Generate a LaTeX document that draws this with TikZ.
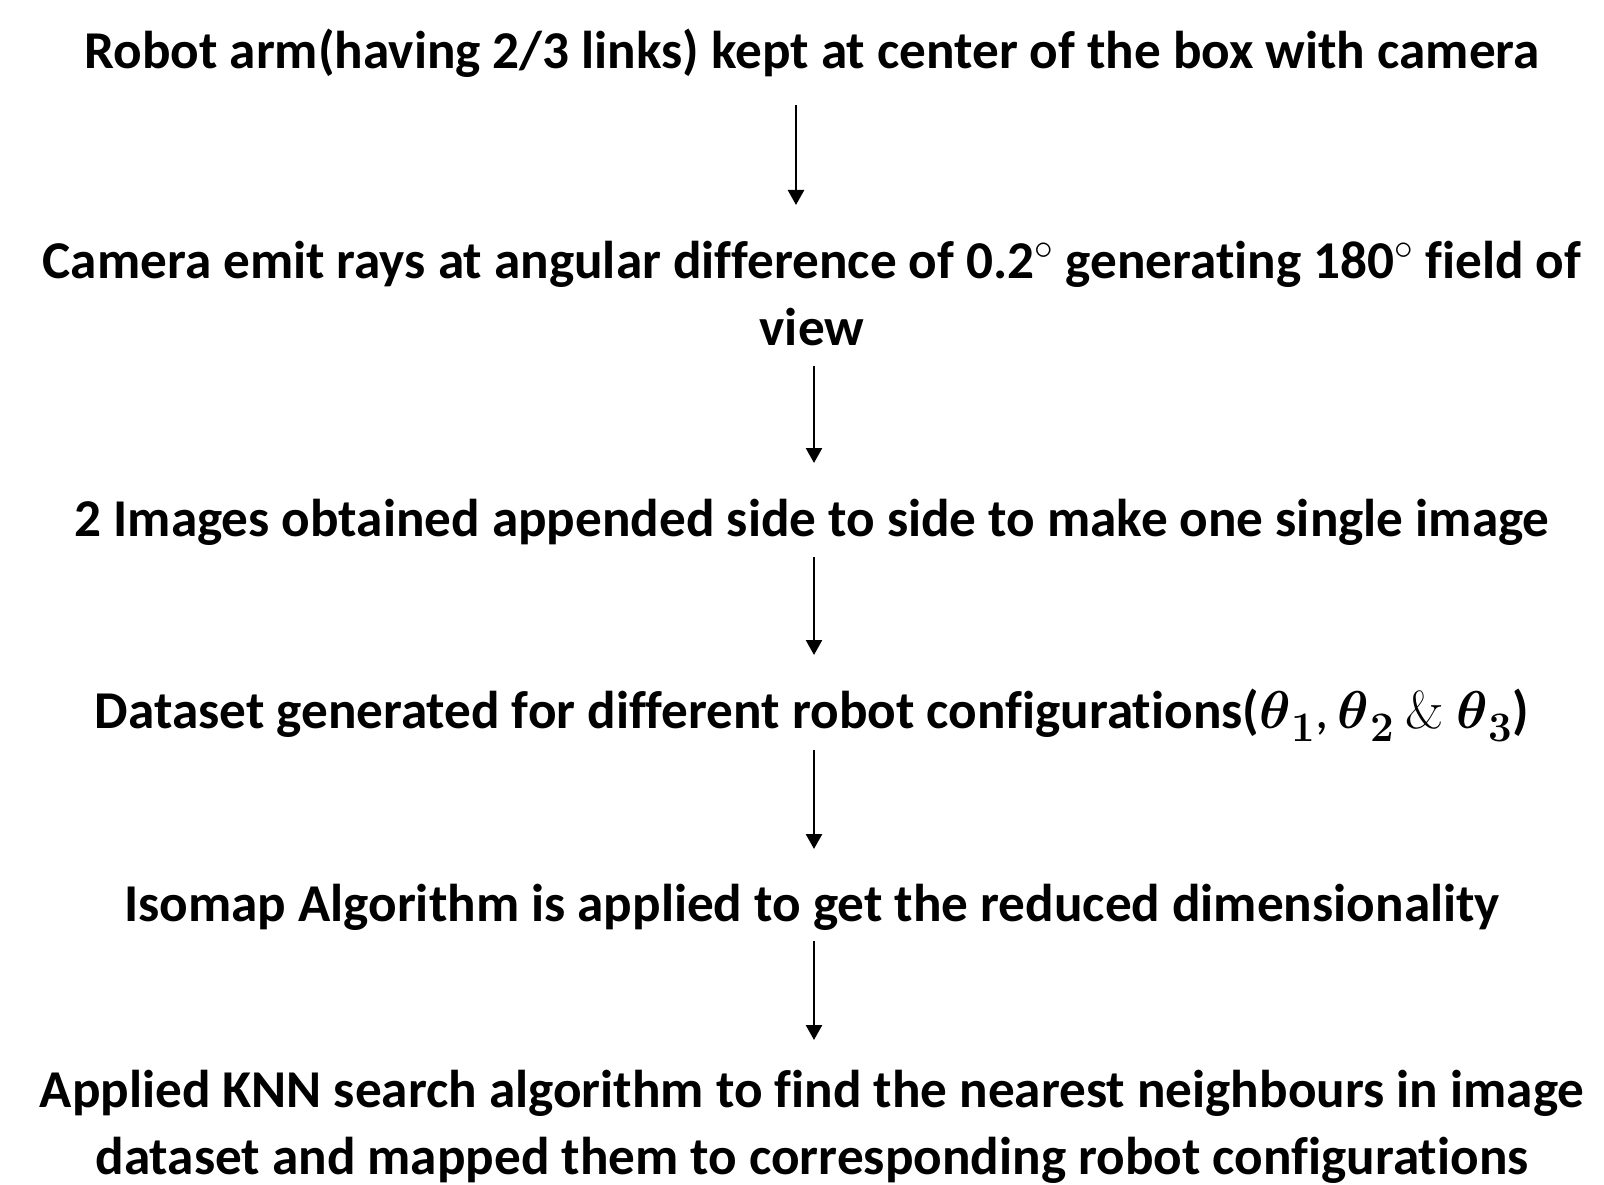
\documentclass[tikz,border=0pt]{standalone}
\usepackage{fix-cm}
\usepackage{amsmath}
\usepackage{fontspec}
\setmainfont[Ligatures=NoCommon]{Carlito}
\newfontfamily\lmr{Latin Modern Roman}
\newcommand\thsub[1]{{\boldmath$\theta$}\kern1pt\raisebox{-13pt}{\fontsize{42}{42}\selectfont\lmr\bfseries #1}}
\usetikzlibrary{arrows.meta}
\begin{document}
\begin{tikzpicture}[x=1pt,y=-1pt,
  lbl/.style={font=\fontsize{53.2}{66.5}\selectfont\bfseries, align=center, inner sep=0pt, anchor=base},
  flow/.style={line width=2.5pt, -{Triangle[length=15pt,width=16pt]}}]
\path[use as bounding box, fill=white] (0,0) rectangle (1604,1185);
\node[lbl] (l1) at (812,69) {Robot arm(having 2/3 links) kept at center of the box with camera};
\node[lbl] (l2) at (812,345) {Camera emit rays at angular difference of 0.2$^\circ$ generating 180$^\circ$ field of\\view};
\node[lbl] (l3) at (812,536) {2 Images obtained appended side to side to make one single image};
\node[lbl] (l4) at (812,728) {Dataset generated for different robot configurations(\thsub{1}{\mdseries,}\,\thsub{2} {\lmr\mdseries\&} \thsub{3})};
\node[lbl] (l5) at (812,921) {Isomap Algorithm is applied to get the reduced dimensionality};
\node[lbl] (l6) at (812,1174) {Applied KNN search algorithm to find the nearest neighbours in image\\dataset and mapped them to corresponding robot configurations};
\coordinate (a1s) at (796,105); \coordinate (a1e) at (796,205);
\coordinate (a2s) at (814,366); \coordinate (a2e) at (814,463);
\coordinate (a3s) at (814,557); \coordinate (a3e) at (814,655);
\coordinate (a4s) at (814,750); \coordinate (a4e) at (814,849);
\coordinate (a5s) at (814,941); \coordinate (a5e) at (814,1040);
\draw[flow] (a1s) -- (a1e);
\draw[flow] (a2s) -- (a2e);
\draw[flow] (a3s) -- (a3e);
\draw[flow] (a4s) -- (a4e);
\draw[flow] (a5s) -- (a5e);
\end{tikzpicture}
\end{document}
